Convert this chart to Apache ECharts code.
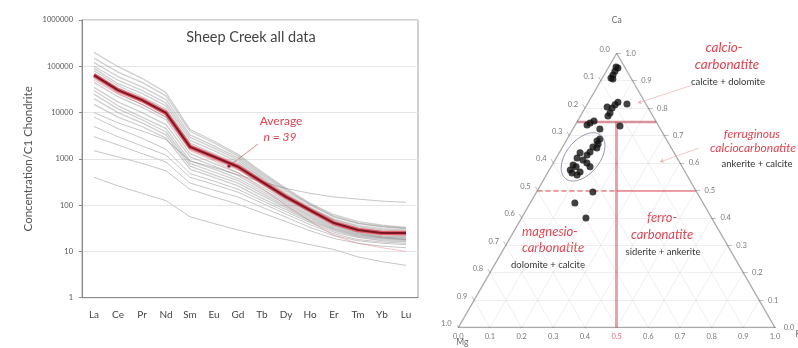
<!DOCTYPE html>
<html>
<head>
<meta charset="utf-8">
<script src="https://cdn.jsdelivr.net/npm/echarts@6/dist/echarts.min.js"></script>
<style>
html,body{margin:0;padding:0;background:#fff}
#chart{width:798px;height:348px}
</style>
</head>
<body>
<div id="chart"></div>
<script>
// ---- REE spider diagram (chondrite normalised) ----
const elements = ['La','Ce','Pr','Nd','Sm','Eu','Gd','Tb','Dy','Ho','Er','Tm','Yb','Lu'];
const averageREE = [64600, 30600, 18600, 9800, 1820, 1110, 675, 318, 151, 78, 41, 29, 25, 25];
const bandREE = [
  [200000, 98000, 55000, 27000, 4300, 2400, 1250, 520, 230, 110, 62, 44, 37, 33],
  [150000, 75000, 45000, 23000, 3900, 2200, 1150, 480, 215, 105, 58, 41, 35, 32],
  [120000, 60000, 36000, 19000, 3300, 1900, 1050, 440, 200, 100, 55, 40, 34, 31],
  [100000, 50000, 30000, 16000, 2900, 1700, 950, 400, 180, 90, 50, 36, 31, 29],
  [90000, 42000, 26000, 14000, 2500, 1500, 850, 380, 170, 85, 48, 34, 29, 27],
  [80000, 38000, 22000, 12000, 2200, 1300, 780, 350, 160, 80, 45, 32, 27, 26],
  [70000, 33000, 20000, 11000, 2000, 1200, 700, 330, 150, 75, 42, 30, 26, 24],
  [55000, 26000, 15000, 8000, 1600, 950, 580, 280, 135, 70, 40, 28, 24, 22],
  [45000, 22000, 13000, 7000, 1300, 800, 500, 250, 125, 65, 37, 26, 22, 21],
  [35000, 17000, 10000, 5500, 1100, 700, 440, 220, 115, 60, 35, 25, 21, 20],
  [30000, 14000, 8000, 4500, 900, 600, 380, 200, 105, 56, 33, 24, 20, 19],
  [25000, 12000, 7000, 3800, 800, 520, 340, 180, 95, 52, 31, 23, 20, 18],
  [20000, 10000, 6000, 3300, 700, 450, 300, 160, 88, 48, 30, 22, 19, 18],
  [15000, 8000, 5000, 2800, 600, 400, 260, 140, 80, 45, 28, 21, 18, 17]
];
const outerREE = [
  [8000, 4500, 2800, 1600, 480, 330, 220, 125, 72, 42, 26, 20, 17, 16],
  [5000, 3000, 1900, 1200, 400, 280, 190, 110, 64, 38, 24, 18, 16, 15],
  [3000, 2000, 1300, 850, 300, 210, 150, 90, 55, 33, 22, 17, 15, 14],
  [1500, 1100, 800, 550, 220, 150, 105, 68, 44, 28, 19, 15, 13, 12],
  [400, 260, 180, 125, 56, 40, 29, 22, 18, 14, 11, 7.6, 6, 5],
  [10000, 6000, 4000, 2600, 900, 650, 450, 320, 230, 180, 150, 135, 122, 115]
];
const pinkREE = [
  [50000, 25000, 15000, 8000, 1500, 900, 500, 230, 100, 45, 22, 15, 12, 10],
  [60000, 29000, 17000, 9000, 1700, 1000, 620, 300, 140, 72, 40, 28, 24, 23]
];
const yTickLabels = ['1', '10', '100', '1000', '10000', '100000', '1000000'];

// ---- Ca–Mg–Fe ternary compositions (molar fractions) ----
const caFrac = [0.950,0.935,0.921,0.910,0.906,0.946,
  0.804,0.801,0.822,0.815,0.782,0.771,0.812,
  0.746,0.753,0.739,0.724,0.735,
  0.680,0.669,0.688,0.658,0.640,0.629,0.637,0.618,0.611,0.593,0.575,0.564,0.556,0.567,0.586,0.600,0.655,0.586,
  0.494,0.454,0.400];
const mgFrac = [0.027,0.038,0.051,0.063,0.059,0.023,
  0.128,0.114,0.085,0.060,0.130,0.142,0.099,
  0.211,0.195,0.224,0.191,0.122,
  0.222,0.224,0.209,0.246,0.264,0.279,0.297,0.316,0.301,0.341,0.359,0.359,0.347,0.332,0.291,0.294,0.235,0.335,
  0.328,0.405,0.397];
const feFrac = [0.023,0.027,0.028,0.027,0.035,0.031,
  0.068,0.085,0.093,0.125,0.088,0.087,0.089,
  0.043,0.052,0.037,0.085,0.143,
  0.098,0.107,0.103,0.096,0.096,0.092,0.066,0.066,0.088,0.066,0.066,0.077,0.097,0.101,0.123,0.106,0.110,0.079,
  0.178,0.141,0.203];
const ternTicks = ['0.0','0.1','0.2','0.3','0.4','0.5','0.6','0.7','0.8','0.9','1.0'];
const calcioLimit = 0.75;   // Ca fraction bounding calcio-carbonatite
const caLimit = 0.5;        // Ca fraction bounding Mg / Fe fields
const feRatioLimit = 0.5;   // Fe/(Fe+Mg) split

const H = Math.sqrt(3) / 2;
// barycentric (Ca apex, Mg left, Fe right) to plane coordinates
function tern(ca, mg, fe) {
  const s = ca + mg + fe;
  ca /= s; fe /= s;
  return [fe + ca / 2, ca * H];
}

const FONT = 'Lato, "Liberation Sans", "DejaVu Sans", sans-serif';
const RED = '#e04452';

// grid lines of the ternary
const gridLines = [];
for (let i = 1; i < 10; i++) {
  const t = i / 10;
  gridLines.push({coords: [tern(t, 1 - t, 0), tern(t, 0, 1 - t)]});
  gridLines.push({coords: [tern(0, 1 - t, t), tern(1 - t, 0, t)]});
  gridLines.push({coords: [tern(0, t, 1 - t), tern(1 - t, t, 0)]});
}
// tick marks on the three edges
const tickLines = [];
const tl = 0.014;
for (let i = 0; i <= 10; i++) {
  const t = i / 10;
  const r = tern(t, 0, 1 - t);
  tickLines.push({coords: [r, [r[0] + tl, r[1]]]});
  const l = tern(1 - t, t, 0);
  tickLines.push({coords: [l, [l[0] - tl * 0.5, l[1] + tl * H]]});
  const b = tern(0, 1 - t, t);
  tickLines.push({coords: [b, [b[0] - tl * 0.5, b[1] - tl * H]]});
}
const border = [
  {coords: [tern(1,0,0), tern(0,1,0)]},
  {coords: [tern(0,1,0), tern(0,0,1)]},
  {coords: [tern(0,0,1), tern(1,0,0)]}
];

// tick labels
const bottomLabels = ternTicks.map((s, i) => ({
  value: tern(0, 1 - i / 10, i / 10), name: s,
  label: {color: i === 5 ? RED : '#555'}
}));
const rightLabels = ternTicks.map((s, i) => ({value: tern(i / 10, 0, 1 - i / 10), name: s}));
const leftLabels = ternTicks.map((s, i) => ({value: tern(1 - i / 10, i / 10, 0), name: s}));

// field boundaries
const limitTop = [{coords: [tern(calcioLimit, 1 - calcioLimit, 0), tern(calcioLimit, 0, 1 - calcioLimit)]}];
const vSplitTopFe = (1 - calcioLimit) * feRatioLimit;
const limitVert = [{coords: [tern(calcioLimit, 1 - calcioLimit - vSplitTopFe, vSplitTopFe), tern(0, 1 - feRatioLimit, feRatioLimit)]}];
const midFe = (1 - caLimit) * feRatioLimit;
const limitMidDash = [{coords: [tern(caLimit, 1 - caLimit, 0), tern(caLimit, 1 - caLimit - midFe, midFe)]}];
const limitMidSolid = [{coords: [tern(caLimit, 1 - caLimit - midFe, midFe), tern(caLimit, 0, 1 - caLimit)]}];

// outline around the main cluster
const ell = {cx: 0.394, cy: 0.539, a: 0.088, b: 0.053, rot: 51 * Math.PI / 180};
const ellPts = [];
for (let k = 0; k <= 60; k++) {
  const th = k / 60 * 2 * Math.PI;
  const ex = ell.a * Math.cos(th), ey = ell.b * Math.sin(th);
  ellPts.push([ell.cx + ex * Math.cos(ell.rot) - ey * Math.sin(ell.rot),
               ell.cy + ex * Math.sin(ell.rot) + ey * Math.cos(ell.rot)]);
}

const samples = caFrac.map((c, i) => tern(c, mgFrac[i], feFrac[i]));

const leaders = [
  {coords: [[0.74, 0.766], [0.567, 0.709]]},
  {coords: [[0.76, 0.567], [0.637, 0.523]]}
];

const series = [];
outerREE.forEach(v => series.push({type: 'line', data: v, symbol: 'none', silent: true,
  lineStyle: {color: '#c6c6c6', width: 1}}));
pinkREE.forEach(v => series.push({type: 'line', data: v, symbol: 'none', silent: true,
  lineStyle: {color: 'rgba(235,120,130,0.45)', width: 1}}));
bandREE.forEach(v => series.push({type: 'line', data: v, symbol: 'none', silent: true,
  lineStyle: {color: 'rgba(105,105,105,0.32)', width: 1.3}}));
series.push({type: 'line', data: averageREE, symbol: 'none', lineStyle: {color: 'rgba(230,60,75,0.75)', width: 4.5}});
series.push({type: 'line', data: averageREE, symbol: 'none', lineStyle: {color: '#7d1624', width: 2}});

const tg = {coordinateSystem: 'cartesian2d', xAxisIndex: 1, yAxisIndex: 1, silent: true};
series.push(Object.assign({type: 'lines', data: gridLines, lineStyle: {color: '#d8d8d8', width: 0.8}}, tg));
series.push(Object.assign({type: 'lines', data: tickLines, lineStyle: {color: '#666', width: 0.8}}, tg));
series.push(Object.assign({type: 'lines', data: border, lineStyle: {color: '#555', width: 1.3}}, tg));
series.push(Object.assign({type: 'lines', data: limitMidDash, lineStyle: {color: RED, width: 2, type: [5, 3]}}, tg));
series.push(Object.assign({type: 'lines', data: limitMidSolid, lineStyle: {color: RED, width: 2.2}}, tg));
series.push(Object.assign({type: 'lines', data: limitVert, lineStyle: {color: RED, width: 3}}, tg));
series.push(Object.assign({type: 'lines', data: limitTop, lineStyle: {color: '#b32637', width: 2.4}}, tg));
series.push(Object.assign({type: 'lines', data: leaders, lineStyle: {color: '#d88', width: 0.9},
  symbol: ['none', 'arrow'], symbolSize: 4}, tg));
series.push(Object.assign({type: 'line', data: ellPts, symbol: 'none', smooth: true,
  lineStyle: {color: '#8e8ea8', width: 1}}, tg));
series.push(Object.assign({type: 'scatter', data: samples, symbolSize: 7,
  itemStyle: {color: '#111'}}, tg));
const lblBase = {show: true, fontSize: 7.5, color: '#555', fontFamily: FONT, formatter: p => p.name};
series.push(Object.assign({type: 'scatter', data: bottomLabels, symbolSize: 0,
  label: Object.assign({}, lblBase, {position: 'inside', offset: [0, 9]})}, tg));
series.push(Object.assign({type: 'scatter', data: rightLabels, symbolSize: 0,
  label: Object.assign({}, lblBase, {position: 'inside', offset: [14, 0]})}, tg));
series.push(Object.assign({type: 'scatter', data: leftLabels, symbolSize: 0,
  label: Object.assign({}, lblBase, {position: 'inside', offset: [-12, -4]})}, tg));
series.push(Object.assign({type: 'scatter', symbolSize: 0,
  data: [
    {value: tern(1, 0, 0), name: 'Ca', label: {offset: [0, -33]}},
    {value: tern(0, 1, 0), name: 'Mg', label: {offset: [4, 15]}},
    {value: tern(0, 0, 1), name: 'Fe', label: {offset: [25, 7]}}
  ],
  label: Object.assign({}, lblBase, {position: 'inside', fontSize: 8.5, color: '#444'})}, tg));

function txt(x, y, s, size, color, style) {
  return {type: 'text', x: x, y: y, silent: true,
    style: {text: s, fill: color, font: (style || 'normal') + ' ' + size + 'px ' + FONT,
      textAlign: 'center', textVerticalAlign: 'middle'}};
}

const option = {
  animation: false,
  textStyle: {fontFamily: FONT},
  title: {text: 'Sheep Creek all data', left: 246, top: 25, textAlign: 'center',
    textStyle: {fontSize: 14.5, fontWeight: 'normal', color: '#444', fontFamily: FONT}},
  grid: [
    {left: 82, top: 20, width: 336, height: 277.7, show: true, borderColor: '#a0a0a0', borderWidth: 1},
    {left: 458.3, top: 53.3, width: 316.7, height: 274.3}
  ],
  xAxis: [
    {gridIndex: 0, type: 'category', data: elements, boundaryGap: true,
      axisLine: {lineStyle: {color: '#8a8a8a'}},
      axisTick: {length: 3, lineStyle: {color: '#8a8a8a'}},
      axisLabel: {color: '#444', fontSize: 10, margin: 12}},
    {gridIndex: 1, type: 'value', min: 0, max: 1, show: false}
  ],
  yAxis: [
    {gridIndex: 0, type: 'log', logBase: 10, min: 1, max: 1000000, splitNumber: 6,
      axisLine: {show: true, lineStyle: {color: '#8a8a8a'}},
      axisTick: {show: true, length: 3},
      splitLine: {lineStyle: {color: '#e6e6e6'}},
      axisLabel: {fontSize: 7.5, color: '#555', margin: 9,
        formatter: v => yTickLabels[Math.round(Math.log10(v))] || ''},
      name: 'Concentration/C1 Chondrite', nameLocation: 'middle', nameGap: 48,
      nameTextStyle: {fontSize: 11.5, color: '#555'}},
    {gridIndex: 1, type: 'value', min: 0, max: H, show: false}
  ],
  graphic: [
    txt(281, 121, 'Average', 12, RED),
    txt(280, 137, 'n = 39', 12, RED, 'italic'),
    {type: 'line', silent: true, shape: {x1: 258, y1: 144, x2: 229, y2: 166},
      style: {stroke: '#d98a8a', lineWidth: 1}},
    {type: 'circle', silent: true, shape: {cx: 229, cy: 166, r: 1.8}, style: {fill: '#7d1624'}},
    txt(724, 48, 'calcio-', 13.5, RED, 'italic'),
    txt(727, 65, 'carbonatite', 13.5, RED, 'italic'),
    txt(728, 82, 'calcite + dolomite', 9.5, '#333'),
    txt(752, 134, 'ferruginous', 12, RED, 'italic'),
    txt(753, 148, 'calciocarbonatite', 12, RED, 'italic'),
    txt(757, 164, 'ankerite + calcite', 9.5, '#333'),
    txt(550, 232, 'magnesio-', 13, RED, 'italic'),
    txt(553, 248, 'carbonatite', 13, RED, 'italic'),
    txt(548, 265, 'dolomite + calcite', 9.5, '#333'),
    txt(662, 218, 'ferro-', 13, RED, 'italic'),
    txt(662, 235, 'carbonatite', 13, RED, 'italic'),
    txt(663, 252, 'siderite + ankerite', 9.5, '#333')
  ],
  series: series
};

const chart = echarts.init(document.getElementById('chart'), null, {renderer: 'canvas'});
chart.setOption(option);
</script>
</body>
</html>
